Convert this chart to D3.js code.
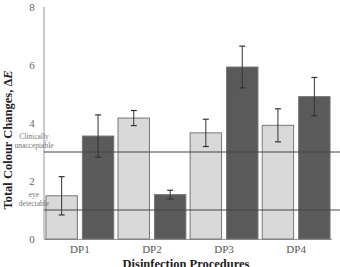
<!DOCTYPE html>
<html><head><meta charset="utf-8">
<script src="https://cdn.jsdelivr.net/npm/d3@7"></script>
<style>body{margin:0;background:#fff}svg{display:block}</style>
</head><body>
<script>
const categories = ["DP1","DP2","DP3","DP4"];
const seriesA = [1.49, 4.17, 3.66, 3.92];
const errA = [0.66, 0.26, 0.47, 0.57];
const seriesB = [3.55, 1.53, 5.93, 4.91];
const errB = [0.73, 0.15, 0.72, 0.66];
const yTicks = [0, 2, 4, 6, 8];
const thresholds = [{v:3, lines:["Clinically","unacceptable"]},{v:1, lines:["eye","detectable"]}];

const W=340,H=267;
const svg=d3.select("body").append("svg").attr("width",W).attr("height",H);
const x0=44, x1=332, yTop=7, yBot=239;
const x=d3.scaleBand().domain(categories).range([x0,x1]).paddingInner(0.045).paddingOuter(0.02);
const xs=d3.scaleBand().domain(["A","B"]).range([0,x.bandwidth()]).paddingInner(0.11);
const y=d3.scaleLinear().domain([0,8]).range([yBot,yTop]);

// axes
svg.append("line").attr("x1",x0).attr("x2",x0).attr("y1",y(8)).attr("y2",y(0)).attr("stroke","#999").attr("stroke-width",1);
svg.append("line").attr("x1",x0).attr("x2",x1).attr("y1",y(0)+0.5).attr("y2",y(0)+0.5).attr("stroke","#999");
svg.selectAll(".yt").data(yTicks).enter().append("text")
 .attr("x",32).attr("y",d=>y(d)+4).attr("text-anchor","middle")
 .attr("font-family","Liberation Serif").attr("font-size",11).attr("fill","#666").text(d=>d);

const g=svg.append("g");
categories.forEach((c,i)=>{
  [[seriesA,errA,"A","#d9d9d9"],[seriesB,errB,"B","#5a5a5a"]].forEach(([s,e,k,col])=>{
    const bx=x(c)+xs(k), bw=xs.bandwidth();
    g.append("rect").attr("x",bx+0.5).attr("y",y(s[i])).attr("width",bw-1).attr("height",y(0)-y(s[i]))
     .attr("fill",col).attr("stroke","#777").attr("stroke-width",1);
  });
});
// threshold lines
thresholds.forEach(t=>{
  svg.append("line").attr("x1",x0).attr("x2",W).attr("y1",y(t.v)).attr("y2",y(t.v)).attr("stroke","#444").attr("stroke-width",1);
  svg.append("text").attr("x",34).attr("y",y(t.v)-13).attr("text-anchor","middle")
   .attr("font-family","Liberation Serif").attr("font-size",7.5).attr("fill","#777")
   .selectAll("tspan").data(t.lines).enter().append("tspan").attr("x",34).attr("dy",(d,j)=>j?9:0).text(d=>d);
});
// error bars
categories.forEach((c,i)=>{
  [[seriesA,errA,"A"],[seriesB,errB,"B"]].forEach(([s,e,k])=>{
    const cx=x(c)+xs(k)+xs.bandwidth()/2;
    const t=y(s[i]+e[i]), b=y(s[i]-e[i]);
    g.append("line").attr("x1",cx).attr("x2",cx).attr("y1",t).attr("y2",b).attr("stroke","#333").attr("stroke-width",1);
    [t,b].forEach(yy=>g.append("line").attr("x1",cx-3).attr("x2",cx+3).attr("y1",yy).attr("y2",yy).attr("stroke","#333").attr("stroke-width",1.2));
  });
});
// x labels
svg.selectAll(".xl").data(categories).enter().append("text")
 .attr("x",d=>x(d)+x.bandwidth()/2).attr("y",253).attr("text-anchor","middle")
 .attr("font-family","Liberation Serif").attr("font-size",11).attr("fill","#555").text(d=>d);
svg.append("text").attr("x",186).attr("y",268).attr("text-anchor","middle")
 .attr("font-family","Liberation Serif").attr("font-weight","bold").attr("font-size",12.5).attr("fill","#222").text("Disinfection Procedures");
const yt=svg.append("text").attr("transform","translate(12,140) rotate(-90)").attr("text-anchor","middle")
 .attr("font-family","Liberation Serif").attr("font-weight","bold").attr("font-size",12.5).attr("fill","#222");
yt.append("tspan").text("Total Colour Changes, Δ");
yt.append("tspan").attr("font-style","italic").text("E");
</script>
</body></html>
